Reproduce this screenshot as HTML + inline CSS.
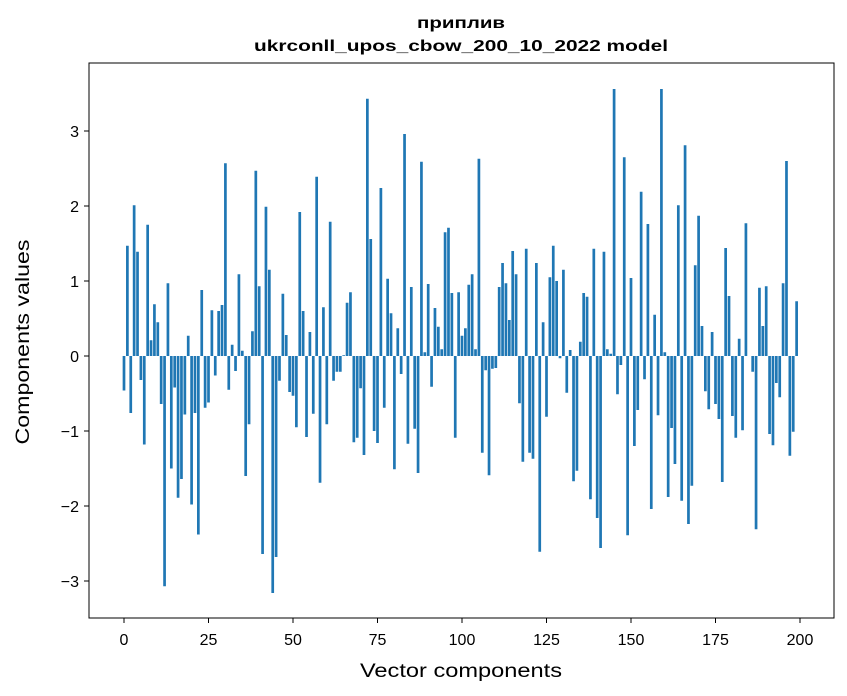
<!DOCTYPE html>
<html><head><meta charset="utf-8"><style>
body{margin:0;background:#fff}
svg{display:block;font-family:"Liberation Sans","DejaVu Sans",sans-serif}
</style></head><body>
<svg id="chart" width="847" height="696" viewBox="0 0 847 696">
<text x="461" y="28" text-anchor="middle" font-size="16" font-weight="bold" textLength="88" lengthAdjust="spacingAndGlyphs">приплив</text>
<text x="461" y="51" text-anchor="middle" font-size="16" font-weight="bold" textLength="414" lengthAdjust="spacingAndGlyphs">ukrconll_upos_cbow_200_10_2022 model</text>
<g id="bars"></g>
<rect x="89" y="63" width="745" height="555" fill="none" stroke="#000" stroke-width="1"/>
<g id="xticks"></g>
<g id="yticks"></g>
<text x="461" y="677" text-anchor="middle" font-size="19" textLength="202" lengthAdjust="spacingAndGlyphs">Vector components</text>
<text transform="translate(29,342) rotate(-90)" text-anchor="middle" font-size="19" textLength="205" lengthAdjust="spacingAndGlyphs">Components values</text>
</svg>
<script>
const values = [-0.46,1.47,-0.76,2.01,1.39,-0.32,-1.18,1.75,0.21,0.69,0.45,-0.64,-3.07,0.97,-1.5,-0.42,-1.89,-1.64,-0.78,0.27,-1.98,-0.76,-2.38,0.88,-0.69,-0.62,0.61,-0.26,0.6,0.68,
2.57,-0.45,0.15,-0.2,1.09,0.07,-1.6,-0.91,0.33,2.47,0.93,-2.64,1.99,1.15,-3.16,-2.68,-0.33,0.83,0.28,-0.48,-0.53,-0.95,1.92,0.6,-1.08,0.32,-0.77,2.39,-1.69,0.65,
-0.91,1.79,-0.33,-0.21,-0.21,0.01,0.71,0.85,-1.15,-1.09,-0.43,-1.32,3.43,1.56,-1.0,-1.16,2.24,-0.69,1.03,0.57,-1.51,0.37,-0.24,2.96,-1.17,0.92,-0.97,-1.56,2.59,
0.05,0.96,-0.41,0.64,0.39,0.09,1.65,1.71,0.84,-1.09,0.85,0.27,0.37,0.95,1.09,0.09,2.63,-1.29,-0.19,-1.59,-0.17,-0.16,0.92,1.24,0.97,0.48,1.4,1.09,-0.63,-1.41,
1.43,-1.29,-1.37,1.24,-2.61,0.45,-0.81,1.05,1.47,1.0,-0.03,1.15,-0.49,0.08,-1.67,-1.53,0.19,0.84,0.79,-1.91,1.43,-2.16,-2.56,1.39,0.09,0.03,3.56,-0.51,-0.12,
2.65,-2.39,1.04,-1.2,-0.72,2.19,-0.31,1.76,-2.04,0.55,-0.79,3.56,0.05,-1.88,-0.96,-1.44,2.01,-1.93,2.81,-2.24,-1.73,1.21,1.87,0.4,-0.47,-0.71,0.32,-0.64,-0.84,-1.68,
1.44,0.8,-0.8,-1.09,0.23,-0.99,1.77,0.0,-0.21,-2.31,0.91,0.4,0.93,-1.04,-1.19,-0.36,-0.55,0.97,2.6,-1.33,-1.01,0.73];
const xTicks = [0,25,50,75,100,125,150,175,200];
const yTicks = [-3,-2,-1,0,1,2,3];
const NS = "http://www.w3.org/2000/svg";
const xs = v => 124 + 3.38 * v;
const ys = v => 356 - 75 * v;
const bars = document.getElementById('bars');
values.forEach((v, i) => {
  const r = document.createElementNS(NS, 'rect');
  const y0 = ys(Math.max(v, 0)), y1 = ys(Math.min(v, 0));
  r.setAttribute('x', xs(i - 0.4));
  r.setAttribute('y', y0);
  r.setAttribute('width', 3.38 * 0.8);
  r.setAttribute('height', Math.max(y1 - y0, 0.01));
  r.setAttribute('fill', '#1f77b4');
  
  
  bars.appendChild(r);
});
const xg = document.getElementById('xticks');
xTicks.forEach(t => {
  const l = document.createElementNS(NS, 'line');
  l.setAttribute('x1', xs(t)); l.setAttribute('x2', xs(t));
  l.setAttribute('y1', 618); l.setAttribute('y2', 623);
  l.setAttribute('stroke', '#000');
  
  
  xg.appendChild(l);
  const tx = document.createElementNS(NS, 'text');
  tx.setAttribute('x', xs(t)); tx.setAttribute('y', 645);
  tx.setAttribute('text-anchor', 'middle'); tx.setAttribute('font-size', '16');
  tx.textContent = t;
  
  
  xg.appendChild(tx);
});
const yg = document.getElementById('yticks');
yTicks.forEach(t => {
  const l = document.createElementNS(NS, 'line');
  l.setAttribute('x1', 84); l.setAttribute('x2', 89);
  l.setAttribute('y1', ys(t)); l.setAttribute('y2', ys(t));
  l.setAttribute('stroke', '#000');
  
  
  yg.appendChild(l);
  const tx = document.createElementNS(NS, 'text');
  tx.setAttribute('x', 79); tx.setAttribute('y', ys(t) + 6);
  tx.setAttribute('text-anchor', 'end'); tx.setAttribute('font-size', '16');
  tx.textContent = t < 0 ? '\u2212' + Math.abs(t) : String(t);
  
  
  yg.appendChild(tx);
});
</script>
</body></html>
